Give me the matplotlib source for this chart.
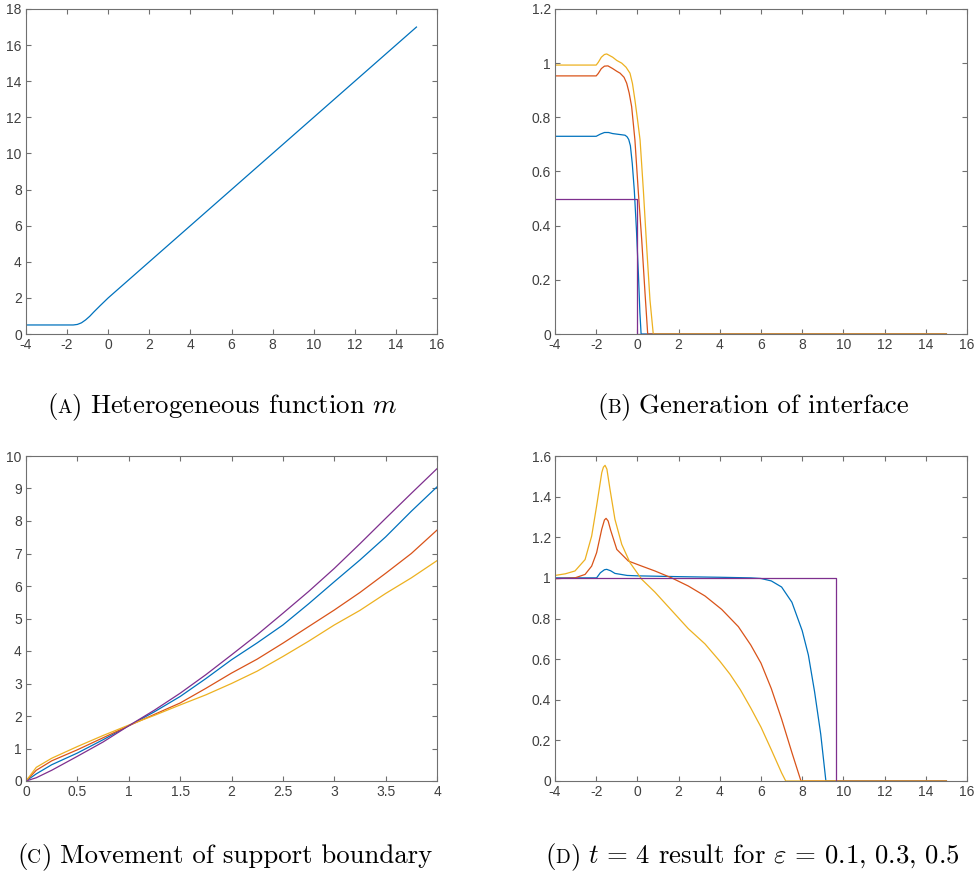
import matplotlib

matplotlib.use("Agg")
import matplotlib.pyplot as plt

plt.rcParams["mathtext.fontset"] = "cm"
plt.rcParams["axes.unicode_minus"] = False

BLUE = "#0072BD"
ORANGE = "#D95319"
YELLOW = "#EDB120"
PURPLE = "#7E2F8E"

# (A) heterogeneous function m
a_x = [-4, -1.7, -1.5, -1.3, -1.1, -0.9, -0.7, -0.4, 0, 15]
a_y = [0.5, 0.5, 0.53, 0.62, 0.78, 0.98, 1.22, 1.56, 2.0, 17]

# (B) generation of interface
b_blue_x = [-4, -2.0, -1.8, -1.6, -1.4, -1.2, -1.0, -0.6, -0.5, -0.42, -0.34, -0.25, -0.15, -0.05, 0.05, 0.12, 0.18, 15]
b_blue_y = [0.73, 0.73, 0.738, 0.744, 0.744, 0.74, 0.738, 0.734, 0.728, 0.718, 0.695, 0.63, 0.53, 0.39, 0.22, 0.08, 0.0, 0.0]
b_orange_x = [-4, -2.0, -1.9, -1.75, -1.6, -1.43, -1.2, -1.0, -0.84, -0.65, -0.52, -0.4, -0.28, -0.12, 0.04, 0.21, 0.37, 0.5, 15]
b_orange_y = [0.953, 0.953, 0.962, 0.98, 0.989, 0.99, 0.98, 0.97, 0.963, 0.948, 0.926, 0.89, 0.84, 0.716, 0.53, 0.347, 0.151, 0.0, 0.0]
b_yellow_x = [-4, -2.0, -1.9, -1.75, -1.6, -1.49, -1.2, -1.0, -0.76, -0.55, -0.36, -0.24, -0.12, 0.0, 0.13, 0.29, 0.45, 0.61, 0.77, 15]
b_yellow_y = [0.993, 0.993, 1.003, 1.022, 1.032, 1.034, 1.022, 1.01, 1.0, 0.985, 0.963, 0.925, 0.864, 0.795, 0.716, 0.53, 0.322, 0.126, 0.0, 0.0]
b_purple_x = [-4, 0, 0, 15]
b_purple_y = [0.5, 0.5, 0.0, 0.0]

# (C) movement of support boundary
c_t = [0, 0.1, 0.25, 0.5, 0.75, 1, 1.25, 1.5, 1.75, 2, 2.25, 2.5, 2.75, 3, 3.25, 3.5, 3.75, 4]
c_blue = [0, 0.22, 0.5, 0.86, 1.27, 1.70, 2.13, 2.6, 3.15, 3.73, 4.25, 4.8, 5.45, 6.13, 6.8, 7.51, 8.3, 9.05]
c_orange = [0, 0.33, 0.62, 0.96, 1.33, 1.70, 2.05, 2.4, 2.85, 3.32, 3.75, 4.24, 4.75, 5.26, 5.8, 6.39, 7.0, 7.72]
c_yellow = [0, 0.42, 0.7, 1.06, 1.4, 1.72, 2.02, 2.34, 2.65, 3.0, 3.38, 3.83, 4.3, 4.8, 5.25, 5.77, 6.25, 6.78]
c_purple = [0, 0.1, 0.33, 0.76, 1.2, 1.70, 2.18, 2.7, 3.27, 3.88, 4.5, 5.16, 5.83, 6.54, 7.3, 8.08, 8.85, 9.61]

# (D) t = 4 result
d_blue_x = [-4, -1.98, -1.8, -1.6, -1.49, -1.3, -1.09, -0.5, 0, 2, 4, 5.5, 6.0, 6.5, 7.0, 7.5, 8.0, 8.3, 8.6, 8.9, 9.15, 15]
d_blue_y = [1.0, 1.0, 1.025, 1.04, 1.042, 1.035, 1.022, 1.012, 1.01, 1.006, 1.003, 1.0, 0.997, 0.985, 0.955, 0.88, 0.74, 0.62, 0.44, 0.23, 0.0, 0.0]
d_orange_x = [-4, -3.03, -2.54, -2.22, -1.98, -1.73, -1.6, -1.52, -1.42, -1.3, -1.0, -0.44, 0.21, 0.85, 1.66, 2.47, 3.28, 4.09, 4.9, 5.5, 6.0, 6.5, 7.0, 7.5, 7.94, 15]
d_orange_y = [0.996, 1.0, 1.017, 1.058, 1.124, 1.24, 1.285, 1.293, 1.28, 1.235, 1.14, 1.083, 1.058, 1.034, 1.0, 0.96, 0.911, 0.845, 0.76, 0.67, 0.58, 0.455, 0.305, 0.14, 0.0, 0.0]
d_yellow_x = [-4, -3.5, -3.03, -2.54, -2.22, -1.98, -1.73, -1.65, -1.57, -1.48, -1.33, -1.09, -0.76, -0.36, 0.21, 0.85, 1.66, 2.47, 3.28, 4.0, 4.5, 5.0, 5.5, 6.0, 6.5, 7.0, 7.2, 15]
d_yellow_y = [1.012, 1.02, 1.034, 1.09, 1.206, 1.354, 1.518, 1.545, 1.554, 1.535, 1.436, 1.288, 1.165, 1.075, 0.993, 0.93, 0.84, 0.75, 0.675, 0.59, 0.525, 0.449, 0.36, 0.265, 0.154, 0.04, 0.0, 0.0]
d_purple_x = [-4, 9.63, 9.63, 15]
d_purple_y = [1.0, 1.0, 0.0, 0.0]

captions = [
    ("A", "Heterogeneous function $m$"),
    ("B", "Generation of interface"),
    ("C", "Movement of support boundary"),
    ("D", r"$t\,=\,4$ result for $\varepsilon\,=\,0.1,\,0.3,\,0.5$"),
]
caption_pos = [(47, 413), (597, 413), (17, 863), (545, 863)]

W, H = 974, 873
fig = plt.figure(figsize=(W / 100, H / 100), dpi=100)


def make_axes(left, top, right, bottom):
    ax = fig.add_axes([left / W, 1 - bottom / H, (right - left) / W, (bottom - top) / H])
    for spine in ax.spines.values():
        spine.set_color("#707070")
        spine.set_linewidth(0.8)
    ax.tick_params(direction="in", length=3.5, width=0.8, color="#707070",
                   labelcolor="#404040", labelsize=10, top=True, right=True, pad=3)
    return ax


def style_ticks(ax):
    for lab in ax.get_xticklabels() + ax.get_yticklabels():
        lab.set_family("Liberation Sans")


ax_a = make_axes(26, 9, 437, 334)
ax_a.plot(a_x, a_y, color=BLUE, lw=0.9)
ax_a.set_xlim(-4, 16)
ax_a.set_ylim(0, 18)
ax_a.set_xticks(range(-4, 17, 2))
ax_a.set_yticks(range(0, 19, 2))

ax_b = make_axes(555, 9, 967, 334)
ax_b.plot(b_blue_x, b_blue_y, color=BLUE, lw=0.9)
ax_b.plot(b_orange_x, b_orange_y, color=ORANGE, lw=0.9)
ax_b.plot(b_yellow_x, b_yellow_y, color=YELLOW, lw=0.9)
ax_b.plot(b_purple_x, b_purple_y, color=PURPLE, lw=0.9)
ax_b.set_xlim(-4, 16)
ax_b.set_ylim(0, 1.2)
ax_b.set_xticks(range(-4, 17, 2))
ax_b.set_yticks([0, 0.2, 0.4, 0.6, 0.8, 1, 1.2])
ax_b.set_yticklabels(["0", "0.2", "0.4", "0.6", "0.8", "1", "1.2"])

ax_c = make_axes(26, 456, 437, 781)
ax_c.plot(c_t, c_blue, color=BLUE, lw=0.9)
ax_c.plot(c_t, c_orange, color=ORANGE, lw=0.9)
ax_c.plot(c_t, c_yellow, color=YELLOW, lw=0.9)
ax_c.plot(c_t, c_purple, color=PURPLE, lw=0.9)
ax_c.set_xlim(0, 4)
ax_c.set_ylim(0, 10)
ax_c.set_xticks([0, 0.5, 1, 1.5, 2, 2.5, 3, 3.5, 4])
ax_c.set_xticklabels(["0", "0.5", "1", "1.5", "2", "2.5", "3", "3.5", "4"])
ax_c.set_yticks(range(0, 11))

ax_d = make_axes(555, 456, 967, 781)
ax_d.plot(d_blue_x, d_blue_y, color=BLUE, lw=0.9)
ax_d.plot(d_orange_x, d_orange_y, color=ORANGE, lw=0.9)
ax_d.plot(d_yellow_x, d_yellow_y, color=YELLOW, lw=0.9)
ax_d.plot(d_purple_x, d_purple_y, color=PURPLE, lw=0.9)
ax_d.set_xlim(-4, 16)
ax_d.set_ylim(0, 1.6)
ax_d.set_xticks(range(-4, 17, 2))
ax_d.set_yticks([0, 0.2, 0.4, 0.6, 0.8, 1, 1.2, 1.4, 1.6])
ax_d.set_yticklabels(["0", "0.2", "0.4", "0.6", "0.8", "1", "1.2", "1.4", "1.6"])

for ax in (ax_a, ax_b, ax_c, ax_d):
    style_ticks(ax)

# captions: "(", small-caps letter, ")", then the text, laid out piece by piece
renderer = fig.canvas.get_renderer()
cap_size = 19.3
for (letter, rest), (px, py) in zip(captions, caption_pos):
    x = px
    pieces = [("(", cap_size, 0), (letter, cap_size * 0.72, 0), (")", cap_size, 8), (rest, cap_size, 0)]
    for text, size, gap in pieces:
        t = fig.text(x / W, 1 - py / H, text, fontsize=size, family="cmr10",
                     ha="left", va="baseline", color="black")
        x += t.get_window_extent(renderer).width + gap

fig.savefig("out.png", dpi=100)
